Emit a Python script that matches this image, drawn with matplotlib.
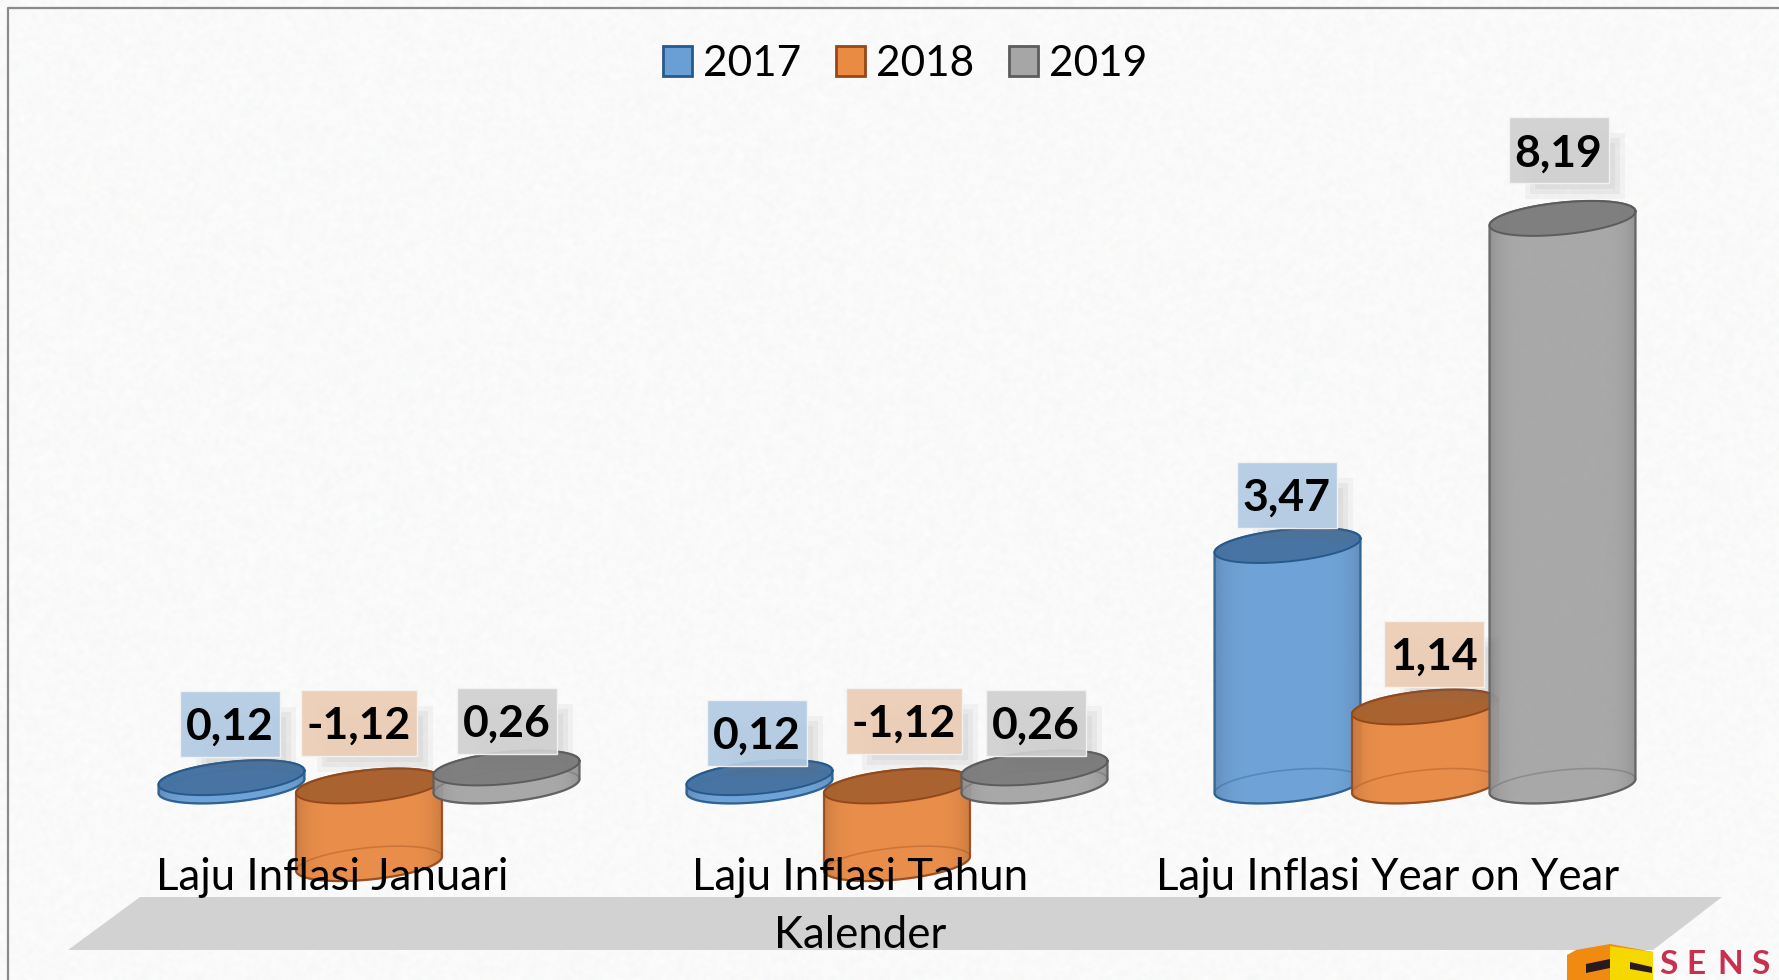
import numpy as np
import matplotlib
matplotlib.use("Agg")
import matplotlib.pyplot as plt
from matplotlib.patches import Patch, Polygon, Rectangle

categories = ["Laju Inflasi Januari", "Laju Inflasi Tahun\nKalender", "Laju Inflasi Year on Year"]
years = ["2017", "2018", "2019"]
values_2017 = [0.12, 0.12, 3.47]
values_2018 = [-1.12, -1.12, 1.14]
values_2019 = [0.26, 0.26, 8.19]
series = [values_2017, values_2018, values_2019]

# label box centre, pixels from the top of the bar
label_dx = [[-2, -3, -1], [-10, 7, 9], [0, 1, -4]]
label_dy = [[54, 45, 51], [63, 65, 53], [47, 45, 68]]

body_colors = ["#6a9fd6", "#ea8a43", "#a6a6a6"]
edge_colors = ["#265a8c", "#94481a", "#5c5c5c"]
top_colors = ["#44719f", "#a5602e", "#7c7c7c"]
label_colors = ["#b3cbe3", "#eccdb5", "#d0d0d0"]

plt.rcParams["font.family"] = ["Lato", "DejaVu Sans"]

W, H = 1779, 980
GROUP_PX = 528
UNIT_PX = 69.3
ZERO_Y = 786
FIRST_X = 231.5 + 137.5
BAR_STEP = 137.5 / GROUP_PX
ELL_A, ELL_B, ELL_D = 73, 16, 7


def data_x(px):
    return (px - FIRST_X) / GROUP_PX


def data_y(px):
    return (ZERO_Y - px) / UNIT_PX


def ellipse(cx, level, t):
    x = cx + ELL_A * np.cos(t) / GROUP_PX
    y = level + (ELL_D * np.cos(t) + ELL_B * np.sin(t)) / UNIT_PX
    return x, y


def shade(color, factor):
    rgb = np.array(matplotlib.colors.to_rgb(color))
    return np.clip(rgb * factor, 0, 1)


def draw_cylinder(ax, cx, value, body, edge, top, z):
    low, high = min(value, 0), max(value, 0)
    top_level = value if value > 0 else 0
    t_low = np.linspace(np.pi, 2 * np.pi, 80)
    t_high = np.linspace(0, np.pi, 80)
    xl, yl = ellipse(cx, low, t_low)
    xh, yh = ellipse(cx, high, t_high)
    outline = Polygon(np.column_stack([np.r_[xl, xh], np.r_[yl, yh]]), closed=True,
                      facecolor="none", edgecolor=edge, lw=1.6, alpha=0.9, zorder=z + 0.2)
    ax.add_patch(outline)

    # darker towards both sides of the cylinder
    u = np.linspace(-1, 1, 200)
    factor = 1 - 0.14 * np.abs(u) ** 6
    grad = np.zeros((1, 200, 4))
    for i, f in enumerate(factor):
        grad[0, i, :3] = shade(body, f)
    grad[0, :, 3] = 0.96
    half = ELL_A / GROUP_PX
    margin = 25 / UNIT_PX
    im = ax.imshow(grad, extent=[cx - half, cx + half, low - margin, high + margin],
                   aspect="auto", zorder=z, interpolation="bilinear")
    im.set_clip_path(outline)

    t = np.linspace(0, 2 * np.pi, 160)
    xb, yb = ellipse(cx, low, t)
    ax.plot(xb, yb, color=edge, lw=1.2, alpha=0.35, zorder=z + 0.1)
    xt, yt = ellipse(cx, top_level, t)
    ax.fill(xt, yt, color=top, alpha=0.93, lw=0, zorder=z + 0.3)
    ax.plot(xt, yt, color=edge, lw=1.4, zorder=z + 0.4)


fig = plt.figure(figsize=(W / 100, H / 100), dpi=100, facecolor="#f6f5f6")
ax = fig.add_axes([0, 0, 1, 1])
ax.set_facecolor("#f6f5f6")

# paper texture of the slide background, a sine hash so it stays the same every run
gy, gx = np.mgrid[0:H // 3, 0:W // 3]
hash_r = np.modf(np.abs(np.sin(gx * 12.9898 + gy * 78.233)) * 43758.5453)[0]
hash_g = np.modf(np.abs(np.sin(gx * 39.346 + gy * 11.135)) * 24634.6345)[0]
hash_b = np.modf(np.abs(np.sin(gx * 73.156 + gy * 52.235)) * 17320.5081)[0]
common = np.modf(np.abs(np.sin(gx * 93.989 + gy * 67.345)) * 31415.9265)[0]
paper = np.dstack([0.962 + 0.024 * common + 0.012 * h for h in (hash_r, hash_g, hash_b)])
ax.imshow(np.clip(paper, 0, 1), extent=[data_x(0), data_x(W), data_y(H), data_y(0)],
          aspect="auto", zorder=0, interpolation="bicubic")

# frame of the picture, it runs off to the right and bottom
ax.plot([data_x(8), data_x(8), data_x(W + 5)], [data_y(H + 5), data_y(8), data_y(8)],
        color="#8a8a8a", lw=1.6, zorder=1)

floor_x = [140, 1722, 1653, 68]
floor_y = [897, 897, 950, 950]
ax.fill([data_x(p) for p in floor_x], [data_y(p) for p in floor_y], color="#d3d2d3", lw=0, zorder=1)

for g in range(len(categories)):
    for s in range(len(series)):
        draw_cylinder(ax, g + (s - 1) * BAR_STEP, series[s][g], body_colors[s], edge_colors[s],
                      top_colors[s], 3 + s)

for g in range(len(categories)):
    for s in range(len(series)):
        value = series[s][g]
        cx = FIRST_X + (g + (s - 1) * BAR_STEP) * GROUP_PX + label_dx[s][g]
        cy = ZERO_Y - max(value, 0) * UNIT_PX - label_dy[s][g]
        box_w = 116 if value < 0 else 100
        box_h = 66
        for grow, alpha in [(0, 0.06), (-5, 0.07), (-10, 0.07)]:
            ax.add_patch(Rectangle((data_x(cx - box_w / 2 + 16 - grow), data_y(cy + box_h / 2 + 16 + grow)),
                                   (box_w + 2 * grow) / GROUP_PX, (box_h + 2 * grow) / UNIT_PX,
                                   facecolor="#707070", edgecolor="none", alpha=alpha, zorder=7))
        ax.add_patch(Rectangle((data_x(cx - box_w / 2), data_y(cy + box_h / 2)),
                               box_w / GROUP_PX, box_h / UNIT_PX, facecolor=label_colors[s],
                               edgecolor="#f4f4f4", lw=1, alpha=0.92, zorder=8))
        text = f"{value:.2f}".replace(".", ",")
        ax.text(data_x(cx), data_y(cy + 3), text, fontsize=32, fontweight="bold", color="black",
                ha="center", va="center", zorder=9)

# axis labels sit left of the group centre, each line placed on its own baseline
for g, name in enumerate(categories):
    for n, line in enumerate(name.split("\n")):
        ax.text(g + data_x(FIRST_X - 37), data_y(890 + 58 * n), line, fontsize=31.5, color="black",
                ha="center", va="baseline", zorder=10)

handles = [Patch(facecolor=body_colors[s], edgecolor=edge_colors[s], lw=2, label=years[s])
           for s in range(len(years))]
fig.legend(handles=handles, loc="center", bbox_to_anchor=(905 / W, 1 - 64 / H), ncols=3,
           frameon=False, fontsize=30.5, handlelength=0.69, handleheight=0.69, handletextpad=0.26,
           columnspacing=0.82, borderpad=0, borderaxespad=0)

# logo in the corner, kept just inside the picture edge
logo_x = [1567, 1576, 1610, 1653, 1653, 1567]
logo_y = [955, 950, 944, 952, 985, 985]
ax.fill([data_x(p) for p in logo_x], [data_y(p) for p in logo_y], color="#f08a10", lw=0, zorder=2)
ax.fill([data_x(p) for p in [1610, 1653, 1653, 1610]], [data_y(p) for p in [946, 952, 985, 985]],
        color="#f5d800", lw=0, zorder=2)
ax.fill([data_x(p) for p in [1586, 1610, 1610, 1586]], [data_y(p) for p in [964, 959, 968, 973]],
        color="#2a1a20", lw=0, zorder=2.1)
ax.fill([data_x(p) for p in [1630, 1652, 1652, 1630]], [data_y(p) for p in [962, 967, 973, 969]],
        color="#2a1a20", lw=0, zorder=2.1)
for px, letter in zip([1668, 1696, 1730, 1760], "SENS"):
    ax.text(data_x(px), data_y(979), letter, fontsize=24, fontweight="bold", color="#c9304f",
            ha="center", va="bottom", zorder=2)

ax.set_xlim(data_x(0), data_x(W))
ax.set_ylim(data_y(H), data_y(0))
ax.axis("off")

fig.savefig("out.png", dpi=100, facecolor=fig.get_facecolor())
